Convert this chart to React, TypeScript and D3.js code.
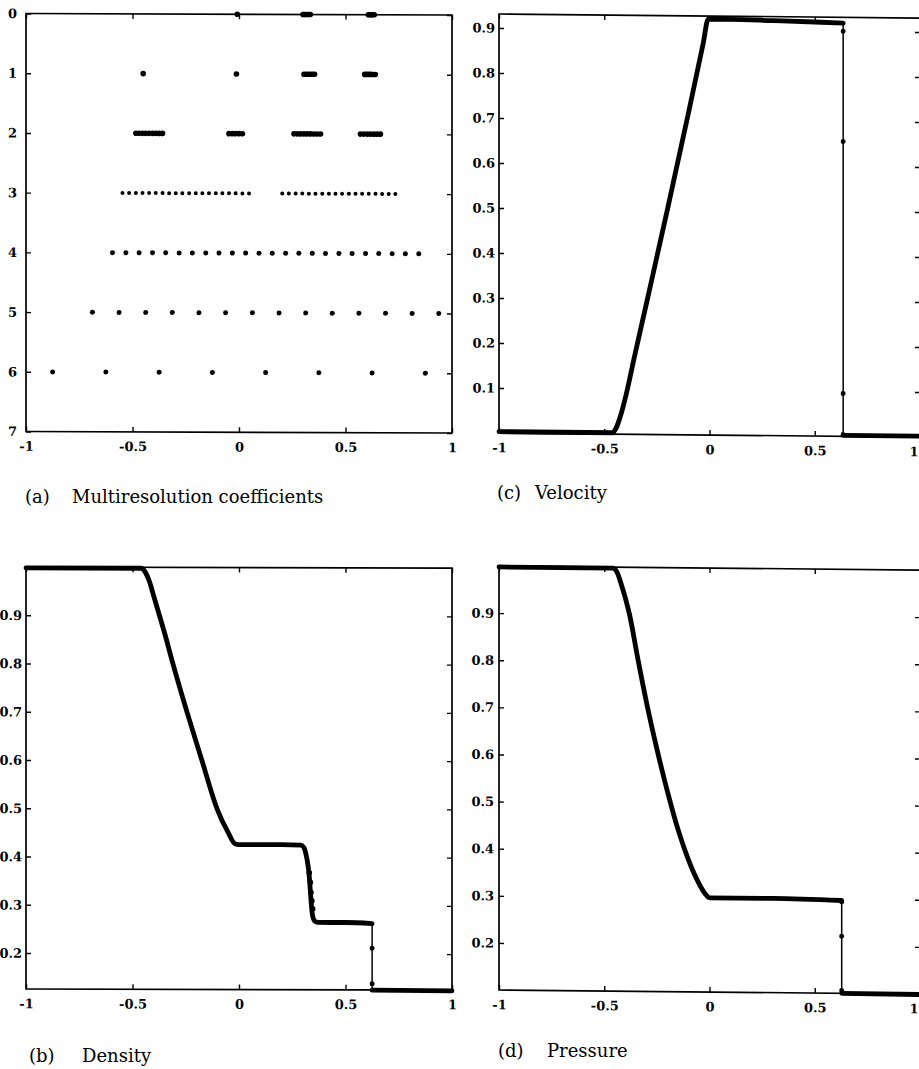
import { useEffect, useRef } from 'react';
import * as d3 from 'd3';

type Pt = [number, number];

// (a) positions of the retained coefficients on each level (level 0 = finest, top)
const level0 = [-0.008, 0.3, 0.307, 0.314, 0.321, 0.328, 0.335, 0.607, 0.614, 0.621, 0.628, 0.635];
const level1 = [-0.45, -0.012, 0.305, 0.315, 0.325, 0.335, 0.345, 0.355, 0.59, 0.6, 0.61, 0.62, 0.63, 0.64];
const level2 = [
  -0.484, -0.469, -0.453, -0.438, -0.422, -0.406, -0.391, -0.375, -0.359,
  -0.047, -0.031, -0.016, 0.0, 0.016,
  0.258, 0.273, 0.289, 0.305, 0.32, 0.336, 0.352, 0.367, 0.383,
  0.57, 0.586, 0.602, 0.617, 0.633, 0.648, 0.664,
];
const level3 = [
  -0.547, -0.516, -0.484, -0.453, -0.422, -0.391, -0.359, -0.328, -0.297, -0.266,
  -0.234, -0.203, -0.172, -0.141, -0.109, -0.078, -0.047, -0.016, 0.016, 0.047,
  0.203, 0.234, 0.266, 0.297, 0.328, 0.359, 0.391, 0.422, 0.453, 0.484,
  0.516, 0.547, 0.578, 0.609, 0.641, 0.672, 0.703, 0.734,
];
const level4 = [
  -0.594, -0.531, -0.469, -0.406, -0.344, -0.281, -0.219, -0.156, -0.094, -0.031,
  0.031, 0.094, 0.156, 0.219, 0.281, 0.344, 0.406, 0.469, 0.531, 0.594,
  0.656, 0.719, 0.781, 0.844,
];
const level5 = [-0.688, -0.563, -0.438, -0.313, -0.188, -0.063, 0.063, 0.188, 0.313, 0.438, 0.563, 0.688, 0.813, 0.938];
const level6 = [-0.875, -0.625, -0.375, -0.125, 0.125, 0.375, 0.625, 0.875];
const levels = [level0, level1, level2, level3, level4, level5, level6];
const levelTicks = [0, 1, 2, 3, 4, 5, 6, 7];

const xTicks = [-1, -0.5, 0, 0.5, 1];

// (c) velocity
const velocitySmooth: Pt[] = [
  [-1, 0.003], [-0.46, 0.003], [-0.445, 0.012], [-0.43, 0.03], [-0.41, 0.062], [-0.39, 0.1],
  [-0.36, 0.165], [-0.3, 0.29], [-0.2, 0.5], [-0.1, 0.715], [-0.03, 0.87], [-0.006, 0.924],
  [0.1, 0.924], [0.3, 0.922], [0.5, 0.92], [0.635, 0.918],
];
const velocityShock: Pt[] = [[0.635, 0.918], [0.635, 0.003]];
const velocityShockDots: Pt[] = [[0.635, 0.9], [0.635, 0.655], [0.635, 0.095], [0.635, 0.004]];
const velocityRight: Pt[] = [[0.635, 0.002], [1, 0.002]];
const velocityTicks = [0.1, 0.2, 0.3, 0.4, 0.5, 0.6, 0.7, 0.8, 0.9];

// (b) density
const densitySmooth: Pt[] = [
  [-1, 0.998], [-0.46, 0.998], [-0.44, 0.99], [-0.42, 0.97], [-0.4, 0.94], [-0.38, 0.91],
  [-0.35, 0.865], [-0.31, 0.8], [-0.244, 0.7], [-0.174, 0.6], [-0.103, 0.5], [-0.05, 0.45],
  [-0.02, 0.428], [0.0, 0.426], [0.2, 0.426], [0.29, 0.425], [0.305, 0.42], [0.315, 0.405],
  [0.325, 0.38], [0.33, 0.36], [0.335, 0.33], [0.34, 0.3], [0.345, 0.28], [0.355, 0.268],
  [0.37, 0.265], [0.5, 0.265], [0.625, 0.263],
];
const densityContactDots: Pt[] = [[0.33, 0.368], [0.335, 0.348], [0.338, 0.327], [0.342, 0.31], [0.346, 0.293]];
const densityShock: Pt[] = [[0.625, 0.263], [0.625, 0.126]];
const densityShockDots: Pt[] = [[0.625, 0.212], [0.625, 0.138]];
const densityRight: Pt[] = [[0.625, 0.125], [1, 0.124]];
const densityTicks = [0.2, 0.3, 0.4, 0.5, 0.6, 0.7, 0.8, 0.9];

// (d) pressure
const pressureSmooth: Pt[] = [
  [-1, 0.998], [-0.46, 0.998], [-0.44, 0.99], [-0.42, 0.965], [-0.4, 0.935], [-0.38, 0.9],
  [-0.34, 0.805], [-0.3, 0.715], [-0.25, 0.615], [-0.2, 0.525], [-0.15, 0.445], [-0.1, 0.38],
  [-0.05, 0.33], [-0.02, 0.308], [0.0, 0.3], [0.3, 0.3], [0.628, 0.297],
];
const pressureShock: Pt[] = [[0.628, 0.297], [0.628, 0.101]];
const pressureShockDots: Pt[] = [[0.628, 0.294], [0.628, 0.221], [0.628, 0.106]];
const pressureRight: Pt[] = [[0.628, 0.1], [1, 0.099]];
const pressureTicks = [0.2, 0.3, 0.4, 0.5, 0.6, 0.7, 0.8, 0.9];

const SERIF = "'DejaVu Serif', 'Liberation Serif', serif";
const WIDTH = 919;

interface PanelOpts {
  left: number;
  right: number;
  top: number;
  bottom: number;
  yDomain: [number, number];
  yTicks: number[];
  labelGap: number;
  skew: number;
}

function drawPanel(
  svg: d3.Selection<SVGSVGElement, unknown, null, undefined>,
  o: PanelOpts,
) {
  const g = svg.append('g')
    .attr('transform', `translate(${o.left},${o.top}) skewY(${o.skew}) translate(${-o.left},${-o.top})`);

  const x = d3.scaleLinear().domain([-1, 1]).range([o.left, o.right]);
  const y = d3.scaleLinear().domain(o.yDomain).range([o.bottom, o.top]);

  const styleAxis = (a: d3.Selection<SVGGElement, unknown, null, undefined>) => {
    a.select('.domain').remove();
    a.selectAll('line').attr('stroke', '#000').attr('stroke-width', 1.4);
    a.selectAll('text')
      .attr('fill', '#000')
      .attr('font-family', SERIF)
      .attr('font-weight', 'bold')
      .attr('font-size', 13);
  };

  g.append('g')
    .attr('transform', `translate(${o.left},0)`)
    .call(d3.axisLeft(y).tickValues(o.yTicks).tickSize(-5).tickPadding(o.labelGap)
      .tickFormat(d => String(d)))
    .call(styleAxis);
  g.append('g')
    .attr('transform', `translate(${o.right},0)`)
    .call(d3.axisRight(y).tickValues(o.yTicks).tickSize(-5).tickFormat(() => ''))
    .call(styleAxis);
  const bx = g.append('g')
    .attr('transform', `translate(0,${o.bottom})`)
    .call(d3.axisBottom(x).tickValues(xTicks).tickSize(-5).tickPadding(10)
      .tickFormat(d => String(d)))
    .call(styleAxis);
  // keep the last label inside the page when the frame runs to the edge
  if (o.right >= WIDTH - 4) {
    bx.selectAll<SVGTextElement, number>('text')
      .filter(d => d === 1)
      .attr('text-anchor', 'end')
      .attr('x', WIDTH - 1 - o.right);
  }
  g.append('g')
    .attr('transform', `translate(0,${o.top})`)
    .call(d3.axisTop(x).tickValues(xTicks).tickSize(-5).tickFormat(() => ''))
    .call(styleAxis);

  g.append('rect')
    .attr('x', o.left)
    .attr('y', o.top)
    .attr('width', o.right - o.left)
    .attr('height', o.bottom - o.top)
    .attr('fill', 'none')
    .attr('stroke', '#000')
    .attr('stroke-width', 1.7);

  return { g, x, y };
}

function drawCurve(
  g: d3.Selection<SVGGElement, unknown, null, undefined>,
  x: d3.ScaleLinear<number, number>,
  y: d3.ScaleLinear<number, number>,
  smooth: Pt[], shock: Pt[], shockDots: Pt[], right: Pt[],
) {
  const line = d3.line<Pt>().x(d => x(d[0])).y(d => y(d[1]));
  const smoothLine = d3.line<Pt>().x(d => x(d[0])).y(d => y(d[1])).curve(d3.curveMonotoneX);
  [smooth, right].forEach(data => {
    g.append('path')
      .datum(data)
      .attr('fill', 'none')
      .attr('stroke', '#000')
      .attr('stroke-width', 4.8)
      .attr('stroke-linejoin', 'round')
      .attr('stroke-linecap', 'round')
      .attr('d', smoothLine);
  });
  g.append('path')
    .datum(shock)
    .attr('fill', 'none')
    .attr('stroke', '#000')
    .attr('stroke-width', 1.5)
    .attr('d', line);
  g.selectAll(null)
    .data(shockDots)
    .enter()
    .append('circle')
    .attr('cx', d => x(d[0]))
    .attr('cy', d => y(d[1]))
    .attr('r', 2.5)
    .attr('fill', '#000');
}

function caption(
  svg: d3.Selection<SVGSVGElement, unknown, null, undefined>,
  tag: string, label: string, x: number, xLabel: number, baseline: number,
) {
  const t = svg.append('text')
    .attr('y', baseline)
    .attr('font-family', SERIF)
    .attr('font-size', 18)
    .attr('fill', '#000');
  t.append('tspan').attr('x', x).text(tag);
  t.append('tspan').attr('x', xLabel).text(label);
}

export default function App() {
  const svgRef = useRef<SVGSVGElement>(null);

  useEffect(() => {
    if (!svgRef.current) return;
    const svg = d3.select(svgRef.current);
    svg.selectAll('*').remove();

    // (a) multiresolution coefficients
    const a = drawPanel(svg, {
      left: 26, right: 452, top: 13.5, bottom: 431.5,
      yDomain: [7, 0], yTicks: levelTicks, labelGap: 9, skew: 0.2,
    });
    levels.forEach((lv, i) => {
      const r = i === 3 ? 2.0 : i < 3 ? 2.8 : 2.5;
      a.g.append('g')
        .selectAll('circle')
        .data(lv)
        .enter()
        .append('circle')
        .attr('cx', d => a.x(d))
        .attr('cy', a.y(i))
        .attr('r', r)
        .attr('fill', '#000');
    });

    // (c) velocity
    const c = drawPanel(svg, {
      left: 499, right: 920, top: 14, bottom: 433,
      yDomain: [0, 0.931], yTicks: velocityTicks, labelGap: 4, skew: 0.55,
    });
    drawCurve(c.g, c.x, c.y, velocitySmooth, velocityShock, velocityShockDots, velocityRight);

    // (b) density
    const b = drawPanel(svg, {
      left: 26, right: 452, top: 567, bottom: 989,
      yDomain: [0.1255, 1.0], yTicks: densityTicks, labelGap: 4, skew: 0.15,
    });
    drawCurve(b.g, b.x, b.y, densitySmooth, densityShock, densityShockDots, densityRight);
    b.g.selectAll(null)
      .data(densityContactDots)
      .enter()
      .append('circle')
      .attr('cx', d => b.x(d[0]))
      .attr('cy', d => b.y(d[1]))
      .attr('r', 2.8)
      .attr('fill', '#000');

    // (d) pressure
    const p = drawPanel(svg, {
      left: 499, right: 920, top: 566, bottom: 990,
      yDomain: [0.1, 1.0], yTicks: pressureTicks, labelGap: 5, skew: 0.55,
    });
    drawCurve(p.g, p.x, p.y, pressureSmooth, pressureShock, pressureShockDots, pressureRight);

    caption(svg, '(a)', 'Multiresolution coefficients', 25, 72, 503);
    caption(svg, '(c)', 'Velocity', 497, 535, 499);
    caption(svg, '(b)', 'Density', 29, 82, 1062);
    caption(svg, '(d)', 'Pressure', 498, 547, 1057);
  }, []);

  return (
    <svg
      ref={svgRef}
      width={WIDTH}
      height={1069}
      style={{ display: 'block', position: 'absolute', left: 0, top: 0, background: '#fff' }}
    />
  );
}
